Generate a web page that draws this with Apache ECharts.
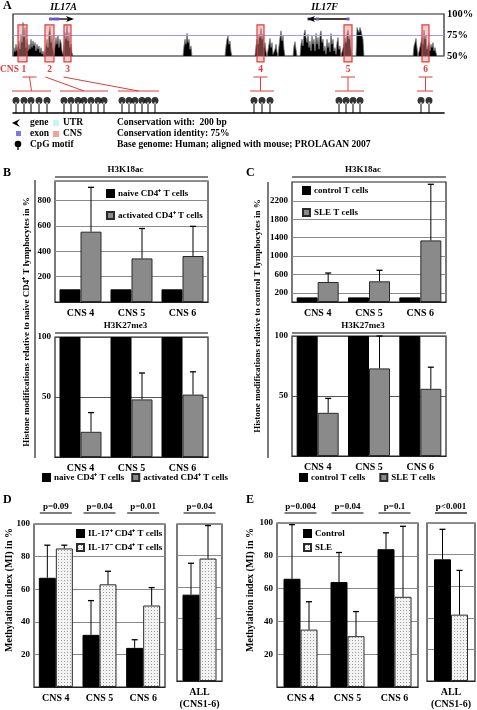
<!DOCTYPE html>
<html><head><meta charset="utf-8">
<script src="https://cdn.jsdelivr.net/npm/echarts@6/dist/echarts.min.js"></script>
<style>html,body{margin:0;padding:0;background:#fff}#c{width:477px;height:710px}</style>
</head><body><div id="c"></div>
<script>
// ---------- Panel A: conservation profile (schematic position, % identity)
const consPos = [0,1,2,3,4,5,6,7,8,9,10,11,12,13,14,15,16,17,18,19,20,21,22,23,24,25,26,27,28,29,30,31,
 32,33,34,35,36,37,38,39,40,41,42,43,44,45,46,47,48,49,50,51,52,53,54,55,56,57,58,59,60,
 170,171,172,173,174,175,176,177,178,179,
 212,213,214,215,216,217,218,219,
 242,243,244,245,246,247,248,249,250,251,252,253,254,255,256,257,258,259,260,261,262,263,264,265,266,267,268,269,270,271,272,
 280,281,282,283,284,
 287,288,289,290,291,292,293,294,295,296,297,298,299,300,301,302,303,304,305,306,307,308,309,310,311,312,313,314,315,316,317,318,319,320,321,322,323,324,325,326,327,328,
 330,331,332,333,334,335,336,337,338,339,
 343,344,345,346,347,348,349,350,351,
 400,401,402,403,404,405,406,407,408,409,410,411,412,413,414,415,416,417,418,419,420,421,422,423,424,431];
const consVal = [50,60,55,64,56,62,68,58,76,66,90,72,84,60,70,56,64,58,70,60,68,62,66,56,64,58,62,54,60,52,56,50,
 50,62,70,60,78,85,66,74,58,52,62,72,64,75,60,70,66,56,52,64,78,70,87,68,78,60,64,54,50,
 50,62,70,64,77,66,70,58,62,50,
 50,62,70,74,64,68,55,50,
 50,62,70,64,76,72,83,70,76,60,66,55,50,52,64,71,60,66,52,50,58,64,55,50,62,72,80,68,74,58,50,
 50,62,67,58,50,
 50,64,70,62,76,81,72,66,76,60,68,56,74,64,70,56,77,64,72,58,75,80,66,70,56,62,52,70,60,66,55,77,64,70,56,60,52,66,72,58,62,50,
 50,64,72,66,76,81,70,74,58,50,
 50,84,82,78,84,80,82,70,50,
 50,62,66,71,60,50,50,52,66,72,64,81,70,74,58,60,66,56,64,60,66,56,60,54,50,50];
const identityLine = [75];
const cnsNames = ['1','2','3','4','5','6'];
const cnsStart = [5,32,51,244,331,409];
const cnsEnd = [14,41,58,251,339,416];
const cpgPos = [3,11,18,26,34, 51,58,65,71,78,85,91, 109,116,122,129,135,142, 241,249,257, 326,333,340,347, 408,416];
const cpgGroup = [0,0,0,0,0, 1,1,1,1,1,1,1, 2,2,2,2,2,2, 3,3,3, 4,4,4,4, 5,5];
const genes = ['IL17A','IL17F'];
const geneStart = [36,296];
const geneEnd = [59,335];
const geneDir = [1,-1];

// ---------- Panel B
const cnsCats = ['CNS 4','CNS 5','CNS 6'];
const bAcNaive = [100,100,100];
const bAcAct = [555,344,363];
const bAcActErr = [905,580,597];
const bMeNaive = [100,100,100];
const bMeAct = [21,48,52];
const bMeActErr = [37,70,71];
// ---------- Panel C
const cAcCtrl = [100,100,100];
const cAcSle = [435,450,1340];
const cAcSleErr = [630,690,2560];
const cMeCtrl = [100,100,100];
const cMeSle = [36,73,56];
const cMeSleErr = [48,100,74];
// ---------- Panel D
const dPos = [67,32,24];
const dPosErr = [87,53,29];
const dNeg = [85,63,50];
const dNegErr = [87,71,61];
const dAllPos = [55], dAllPosErr = [75], dAllNeg = [78], dAllNegErr = [99];
const dPvals = ['p=0.09','p=0.04','p=0.01'];
const dAllP = ['p=0.04'];
// ---------- Panel E
const eCtrl = [66,64,84];
const eCtrlErr = [99,82,94];
const eSle = [35,31,55];
const eSleErr = [52,46,98];
const eAllCtrl = [77], eAllCtrlErr = [96], eAllSle = [42], eAllSleErr = [70];
const ePvals = ['p=0.004','p=0.04','p=0.1'];
const eAllP = ['p<0.001'];
const allCat = ['ALL\n(CNS1-6)'];

const FF = '"Liberation Serif", "Times New Roman", serif';
const TS = {fontFamily: FF, fontWeight: 'bold', fontSize: 9, color: '#000'};

const pat = document.createElement('canvas'); pat.width = 3; pat.height = 3;
const pc = pat.getContext('2d'); pc.fillStyle = '#f3f3f3'; pc.fillRect(0,0,3,3);
pc.fillStyle = '#9c9c9c'; pc.fillRect(1,1,1,1);
const dotted = {image: pat, repeat: 'repeat'};

const chart = echarts.init(document.getElementById('c'), null, {renderer: 'canvas'});

function frameGrid(l, t, w, h) {
  return {left: l, top: t, width: w, height: h, show: true, borderColor: '#222', borderWidth: 1.2, backgroundColor: 'transparent', containLabel: false};
}
const grids = [
  frameGrid(13, 14, 431, 42),   // 0 A cons
  {left: 13, top: 90, width: 431, height: 23}, // 1 A CpG
  frameGrid(55, 181, 153, 121), // 2 B top
  frameGrid(55, 337, 153, 120), // 3 B bottom
  frameGrid(292, 182, 154, 120),// 4 C top
  frameGrid(292, 336, 154, 120),// 5 C bottom
  frameGrid(34, 524, 131, 163), // 6 D main
  frameGrid(177, 524, 45, 163), // 7 D all
  frameGrid(277, 523, 141, 164),// 8 E main
  frameGrid(427, 523, 48, 164)  // 9 E all
];

function catX(gi, data) {
  return {type: 'category', gridIndex: gi, data: data, axisTick: {show: false},
    axisLine: {lineStyle: {color: '#222', width: 1.2}},
    axisLabel: {margin: 5, fontSize: 10, lineHeight: 12, fontFamily: FF, fontWeight: 'bold', color: '#000'}};
}
function valY(gi, min, max, interval, labels, splitColor) {
  return {type: 'value', gridIndex: gi, min: min, max: max, interval: interval,
    axisLine: {show: false}, axisTick: {show: false},
    axisLabel: Object.assign({}, TS, {margin: 4, formatter: v => (labels.indexOf(v) >= 0) ? String(v) : ''}),
    splitLine: {show: true, lineStyle: {color: splitColor, width: 1}}};
}

const xAxes = [
  {type: 'value', gridIndex: 0, min: 0, max: 431, show: false},
  {type: 'value', gridIndex: 1, min: 0, max: 431, axisLine: {show: true, lineStyle: {color: '#000', width: 1.6}}, axisTick: {show: false}, axisLabel: {show: false}, splitLine: {show: false}},
  catX(2, cnsCats), catX(3, cnsCats), catX(4, cnsCats), catX(5, cnsCats),
  catX(6, cnsCats), catX(7, allCat), catX(8, cnsCats), catX(9, allCat)
];
const yAxes = [
  {type: 'value', gridIndex: 0, min: 50, max: 100, interval: 25, position: 'right',
    axisLine: {show: false}, axisTick: {show: false},
    axisLabel: {fontFamily: FF, fontWeight: 'bold', fontSize: 10.5, color: '#000', margin: 3, formatter: '{value}%'},
    splitLine: {show: false}},
  {type: 'value', gridIndex: 1, min: 0, max: 1, show: false},
  valY(2, 0, 955, 200, [200,400,600,800], '#8a8a8a'),
  valY(3, 0, 100, 50, [50,100], '#555'),
  valY(4, 0, 2610, 200, [200,600,1000,1400,1800,2200], '#8a8a8a'),
  valY(5, 0, 100, 50, [50,100], '#555'),
  valY(6, 0, 100, 20, [20,40,60,80,100], '#8a8a8a'),
  valY(7, 0, 100, 20, [], '#8a8a8a'),
  valY(8, 0, 100, 20, [20,40,60,80,100], '#8a8a8a'),
  valY(9, 0, 100, 20, [], '#8a8a8a')
];
// C top: labels and gridlines only at 200, 600, ... 2200
yAxes[4].axisLabel.customValues = [200,600,1000,1400,1800,2200];
yAxes[4].axisTick = {show: false, customValues: [200,600,1000,1400,1800,2200]};

const BLACK = {color: '#000', borderColor: '#000', borderWidth: 1};
const GRAY = {color: '#8a8a8a', borderColor: '#2a2a2a', borderWidth: 1};
const DOT = {color: dotted, borderColor: '#2a2a2a', borderWidth: 1};

function bar(gi, name, data, style, bw) {
  return {type: 'bar', name: name, xAxisIndex: gi, yAxisIndex: gi, data: data, barWidth: bw, barGap: '0%',
    itemStyle: style, silent: true, z: 2};
}
function errBars(gi, vals, tops, side, bw) {
  return {type: 'custom', xAxisIndex: gi, yAxisIndex: gi, z: 4, silent: true,
    data: vals.map((v, i) => [i, v, tops[i]]),
    encode: {x: 0, y: [1, 2]},
    renderItem: function (params, api) {
      const c = api.coord([api.value(0), api.value(1)]);
      const t = api.coord([api.value(0), api.value(2)]);
      const x = c[0] + side * bw / 2;
      return {type: 'group', children: [
        {type: 'line', shape: {x1: x, y1: c[1], x2: x, y2: t[1]}, style: {stroke: '#000', lineWidth: 1}},
        {type: 'line', shape: {x1: x - 3, y1: t[1], x2: x + 3, y2: t[1]}, style: {stroke: '#000', lineWidth: 1.3}}
      ]};
    }};
}

const lolli = 'path://M0,4 A4,4 0 1,0 8,4 A4,4 0 1,0 0,4 Z M3.3,6 L4.7,6 L4.7,18 L3.3,18 Z';

const series = [
  {type: 'line', xAxisIndex: 0, yAxisIndex: 0, data: [], z: 1, silent: true,
    markLine: {silent: true, symbol: 'none', label: {show: false}, animation: false,
      lineStyle: {color: '#9d9df2', width: 1.2, type: 'solid'}, data: identityLine.map(v => ({yAxis: v}))}},
  {type: 'line', xAxisIndex: 0, yAxisIndex: 0, data: consPos.map((p, i) => [p, consVal[i]]),
    symbol: 'none', lineStyle: {color: '#7a7a7a', width: 0.8}, areaStyle: {color: '#000', opacity: 1, origin: 'start'}, silent: true, z: 2},
  {type: 'scatter', xAxisIndex: 1, yAxisIndex: 1, data: cpgPos.map(p => [p, 0]), symbol: lolli,
    symbolSize: [7, 16], symbolOffset: [0, '-50%'], itemStyle: {color: '#000'}, silent: true, z: 3},
  // B
  bar(2, 'naive CD4⁺ T cells', bAcNaive, BLACK, 21), bar(2, 'activated CD4⁺ T cells', bAcAct, GRAY, 21), errBars(2, bAcAct, bAcActErr, 1, 21),
  bar(3, 'naive CD4⁺ T cells', bMeNaive, BLACK, 21), bar(3, 'activated CD4⁺ T cells', bMeAct, GRAY, 21), errBars(3, bMeAct, bMeActErr, 1, 21),
  // C
  bar(4, 'control T cells', cAcCtrl, BLACK, 21), bar(4, 'SLE T cells', cAcSle, GRAY, 21), errBars(4, cAcSle, cAcSleErr, 1, 21),
  bar(5, 'control T cells', cMeCtrl, BLACK, 21), bar(5, 'SLE T cells', cMeSle, GRAY, 21), errBars(5, cMeSle, cMeSleErr, 1, 21),
  // D
  bar(6, 'IL-17⁺ CD4⁺ T cells', dPos, BLACK, 17), bar(6, 'IL-17⁻ CD4⁺ T cells', dNeg, DOT, 17),
  errBars(6, dPos, dPosErr, -1, 17), errBars(6, dNeg, dNegErr, 1, 17),
  bar(7, 'IL-17⁺ CD4⁺ T cells', dAllPos, BLACK, 17), bar(7, 'IL-17⁻ CD4⁺ T cells', dAllNeg, DOT, 17),
  errBars(7, dAllPos, dAllPosErr, -1, 17), errBars(7, dAllNeg, dAllNegErr, 1, 17),
  // E
  bar(8, 'Control', eCtrl, BLACK, 17), bar(8, 'SLE', eSle, DOT, 17),
  errBars(8, eCtrl, eCtrlErr, -1, 17), errBars(8, eSle, eSleErr, 1, 17),
  bar(9, 'Control', eAllCtrl, BLACK, 17), bar(9, 'SLE', eAllSle, DOT, 17),
  errBars(9, eAllCtrl, eAllCtrlErr, -1, 17), errBars(9, eAllSle, eAllSleErr, 1, 17)
];

function leg(data, left, top, orient, gap) {
  return {data: data, left: left, top: top, orient: orient, itemGap: gap, itemWidth: 7, itemHeight: 7, icon: 'rect',
    selectedMode: false, padding: 0, textStyle: Object.assign({}, TS, {padding: [0, 0, 0, -1]})};
}
const legends = [
  leg(['naive CD4⁺ T cells', 'activated CD4⁺ T cells'], 106, 189, 'vertical', 13),
  leg(['naive CD4⁺ T cells', 'activated CD4⁺ T cells'], 42, 473, 'horizontal', 7),
  leg(['control T cells', 'SLE T cells'], 302, 186, 'vertical', 13),
  leg(['control T cells', 'SLE T cells'], 299, 473, 'horizontal', 14),
  leg(['IL-17⁺ CD4⁺ T cells', 'IL-17⁻ CD4⁺ T cells'], 76, 529, 'vertical', 5),
  leg(['Control', 'SLE'], 303, 529, 'vertical', 5)
];

chart.setOption({animation: false, backgroundColor: '#fff', grid: grids, xAxis: xAxes, yAxis: yAxes, series: series, legend: legends});

// ---------- annotations, placed through the axes' own scales
const P = (gi, x, y) => chart.convertToPixel({gridIndex: gi}, [x, y]);
const G = [];
function txt(s, x, y, opt) {
  G.push({type: 'text', silent: true, z: 10, style: Object.assign({text: s, x: x, y: y, fill: '#000', font: 'bold 9.5px ' + FF, textAlign: 'left', textVerticalAlign: 'middle'}, opt || {})});
}
function vtxt(s, x, y, size) {
  G.push({type: 'text', silent: true, z: 10, x: x, y: y, rotation: Math.PI / 2,
    style: {text: s, x: 0, y: 0, fill: '#000', font: 'bold ' + size + 'px ' + FF, textAlign: 'center', textVerticalAlign: 'middle'}});
}
function ln(x1, y1, x2, y2, color, w) {
  G.push({type: 'line', silent: true, z: 10, shape: {x1: x1, y1: y1, x2: x2, y2: y2}, style: {stroke: color || '#000', lineWidth: w || 1}});
}
function rect(x, y, w, h, fill, stroke) {
  G.push({type: 'rect', silent: true, z: 10, shape: {x: x, y: y, width: w, height: h}, style: {fill: fill || 'none', stroke: stroke || null, lineWidth: 1.3}});
}
const RED = '#e03c3c';

// panel letters
txt('A', 3, 6, {font: 'bold 12px ' + FF});
txt('B', 3, 173, {font: 'bold 12px ' + FF});
txt('C', 246, 173, {font: 'bold 12px ' + FF});
txt('D', 3, 500, {font: 'bold 12px ' + FF});
txt('E', 246, 500, {font: 'bold 12px ' + FF});

// genes
genes.forEach((g, i) => {
  const a = P(0, geneStart[i], 100), b = P(0, geneEnd[i], 100);
  const y = a[1] + 5;
  txt(g, (a[0] + b[0]) / 2 - (i ? 4 : -3), 7, {font: 'italic bold 10px ' + FF, textAlign: 'center'});
  ln(a[0], y, b[0], y, '#000', 1.3);
  const tip = geneDir[i] > 0 ? b[0] : a[0];
  const d = geneDir[i];
  G.push({type: 'polygon', silent: true, z: 11, shape: {points: [[tip + d * 2, y], [tip - d * 6, y - 3], [tip - d * 4, y], [tip - d * 6, y + 3]]}, style: {fill: '#000'}});
  const ex = i === 0 ? [0.08, 0.25, 0.38] : [0.0, 0.22, 1.0];
  ex.forEach(f => rect(a[0] + f * (b[0] - a[0]) - 1.5, y - 1.5, 3, 3, '#6a5ad0'));
});

// CNS boxes, labels and connectors to CpG groups
cnsNames.forEach((n, i) => {
  const a = P(0, cnsStart[i], 87), b = P(0, cnsEnd[i], 43);
  G.push({type: 'rect', silent: true, z: 9, shape: {x: a[0], y: a[1], width: b[0] - a[0], height: b[1] - a[1]},
    style: {fill: 'rgba(245,140,140,0.45)', stroke: RED, lineWidth: 1.2}});
  const cx = (a[0] + b[0]) / 2;
  if (i === 0) txt('CNS 1', 0, 70, {fill: RED, font: 'bold 9.5px ' + FF, textAlign: 'left'});
  else txt(n, cx, 70, {fill: RED, font: 'bold 9.5px ' + FF, textAlign: 'center'});
  const ps = cpgPos.filter((p, k) => cpgGroup[k] === i).map(p => P(1, p, 0)[0]);
  const gl = Math.min(...ps) - 4, gr = Math.max(...ps) + 4, gc = (gl + gr) / 2;
  ln(gl, 91, gr, 91, RED, 1);
  if (i === 1 || i === 2) {
    ln(cx - 4, 77, gc, 91, RED, 1);
  } else {
    const tc = i === 0 ? gc - 2 : cx;
    ln(tc - 7, 77, tc + 7, 77, RED, 1);
    ln(tc, 77, i === 0 ? gc : tc, 91, RED, 1);
  }
});

// Panel A legend
G.push({type: 'polygon', silent: true, z: 11, shape: {points: [[12, 123], [20, 119], [17, 123], [20, 127]]}, style: {fill: '#000'}});
txt('gene', 30, 123);
rect(53, 120, 6, 6, '#c8f4f4');
txt('UTR', 63, 123);
rect(16, 131, 5, 5, '#7b7be0');
txt('exon', 30, 134);
rect(53, 131, 6, 6, '#f2a0a0');
txt('CNS', 63, 134);
G.push({type: 'circle', silent: true, z: 11, shape: {cx: 18, cy: 144, r: 3.3}, style: {fill: '#000'}});
ln(18, 146, 18, 150, '#000', 1.3);
txt('CpG motif', 30, 145);
txt('Conservation with:  200 bp', 117, 123);
txt('Conservation identity: 75%', 117, 134);
txt('Base genome: Human; aligned with mouse; PROLAGAN 2007', 117, 145);

// Panel B / C headers, brackets, axis titles
[[2, 3, 'H3K18ac', 'H3K27me3'], [4, 5, 'H3K18ac', 'H3K27me3']].forEach(([gt, gb, h1, h2]) => {
  const l = P(gt, 0, 0), r = P(gt, 2, 0);
  const band = (r[0] - l[0]) / 2;
  const x1 = l[0] - band / 2, x2 = r[0] + band / 2, cx = (x1 + x2) / 2;
  txt(h1, cx - 6, 170, {textAlign: 'center', font: 'bold 9px ' + FF});
  ln(x1, 177, x2, 177, '#000', 1.2);
  txt(h2, cx - 6, 326, {textAlign: 'center', font: 'bold 9px ' + FF});
  ln(x1, 333, x2, 333, '#000', 1.2);
});
ln(35, 180, 35, 458, '#444', 1.4);
ln(268, 182, 268, 458, '#444', 1.4);
vtxt('Histone modifications relative to naive CD4⁺ T lymphocytes in %', 27, 322, 9);
vtxt('Histone modifications relative to control T lymphocytes in %', 258, 316, 9);

// Panel D / E p-values and axis titles
function pv(gi, labels) {
  labels.forEach((s, i) => {
    const c = P(gi, i, 100);
    txt(s, c[0], 507, {textAlign: 'center', font: 'bold 9px ' + FF});
    ln(c[0] - 16, 513, c[0] + 16, 513, '#000', 1.2);
  });
}
pv(6, dPvals); pv(7, dAllP); pv(8, ePvals); pv(9, eAllP);
vtxt('Methylation index (MI) in %', 9, 590, 10);
vtxt('Methylation index (MI) in %', 250, 590, 10);

chart.setOption({graphic: G});
</script></body></html>
